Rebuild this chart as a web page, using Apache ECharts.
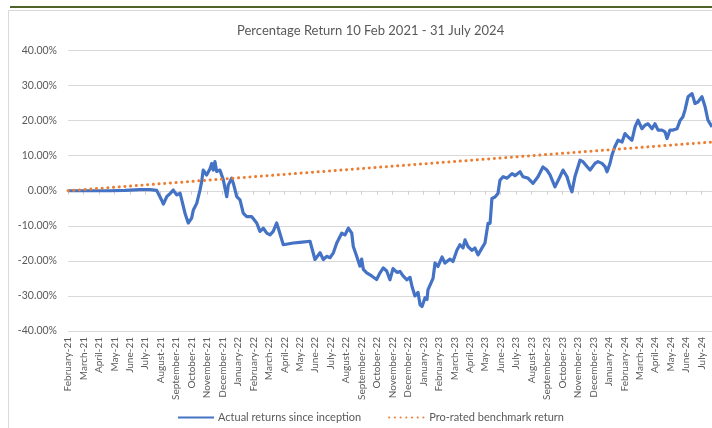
<!DOCTYPE html>
<html>
<head>
<meta charset="utf-8">
<script src="https://cdn.jsdelivr.net/npm/echarts@6/dist/echarts.min.js"></script>
<style>
html,body{margin:0;padding:0;background:#fff;}
#chart{width:712px;height:428px;}
</style>
</head>
<body>
<div id="chart"></div>
<script>
// Month tick labels (tick n = 10th of month n after Feb 2021)
const monthLabels = ["February-21","March-21","April-21","May-21","June-21","July-21","August-21","September-21","October-21","November-21","December-21",
"January-22","February-22","March-22","April-22","May-22","June-22","July-22","August-22","September-22","October-22","November-22","December-22",
"January-23","February-23","March-23","April-23","May-23","June-23","July-23","August-23","September-23","October-23","November-23","December-23",
"January-24","February-24","March-24","April-24","May-24","June-24","July-24"];

// Time in months since 10 Feb 2021
const actualTime = [0,0.78,1.75,2.72,3.69,4.66,5.31,5.74,5.95,6.06,6.17,6.39,6.60,6.81,7.03,7.25,7.36,7.57,7.78,8.00,8.11,8.33,8.54,8.65,8.75,8.97,9.19,9.30,9.40,9.51,9.62,9.83,10.05,10.27,10.37,10.59,10.70,10.92,11.13,11.34,11.56,11.89,11.99,12.21,12.42,12.64,12.86,13.07,13.28,13.50,13.61,13.72,13.93,14.58,15.01,15.66,15.77,15.98,16.31,16.52,16.74,16.95,17.17,17.39,17.71,17.92,18.14,18.36,18.46,18.68,18.89,19.00,19.11,19.33,19.65,19.97,20.19,20.40,20.62,20.83,21.03,21.29,21.48,21.68,21.93,22.13,22.26,22.45,22.65,22.78,22.91,23.10,23.23,23.29,23.62,23.75,23.94,24.20,24.39,24.72,24.91,25.17,25.36,25.56,25.69,25.88,26.14,26.33,26.53,26.79,26.98,27.18,27.31,27.43,27.63,27.82,27.95,28.15,28.41,28.73,28.92,29.25,29.44,29.76,30.09,30.41,30.73,30.99,31.19,31.51,31.83,32.03,32.29,32.48,32.61,32.80,33.13,33.32,33.58,33.78,34.10,34.29,34.55,34.75,34.88,35.07,35.20,35.39,35.59,35.85,36.04,36.23,36.49,36.69,36.88,37.14,37.33,37.53,37.79,37.98,38.18,38.43,38.63,38.76,38.95,39.15,39.41,39.60,39.79,39.92,40.12,40.38,40.57,40.76,41.02,41.22,41.41,41.67];

// Actual returns since inception (%)
const actualReturn = [0,0,0,0,0.1,0.3,0.3,0.1,-1.7,-2.7,-3.8,-1.7,-0.8,0.2,-1.2,-0.7,-2.6,-6.4,-9.2,-7.8,-5.5,-3.6,0.2,2.6,5.9,4.5,6.3,7.8,5.9,8.3,5.5,5.9,3.1,-1.7,1.6,3.6,2.1,-1.7,-2.6,-6.4,-7.4,-7.4,-6.9,-9.2,-11.6,-10.7,-12.1,-12.6,-11.6,-9.2,-10.7,-10.2,-15.4,-14.9,-14.7,-14.4,-14.9,-19.6,-17.7,-19.6,-18.7,-19.1,-17.7,-14.9,-12.1,-12.6,-10.7,-12.1,-15.9,-18.7,-21.5,-19.5,-22.4,-23.4,-24.3,-25.3,-23.4,-22.0,-22.9,-25.4,-22.2,-23.3,-23.0,-24.3,-25.4,-24.7,-27.3,-30,-29,-32.5,-33,-30.5,-31,-28.3,-25,-20.6,-21.6,-18.9,-20.6,-19.5,-20.2,-16.9,-15.4,-16.3,-14,-15.9,-17,-16.3,-18.3,-16.3,-14.9,-9.3,-9.3,-2.2,-1.8,-0.8,3,4,3.6,4.9,4.3,5.4,4,3.6,2.1,4,6.8,5.9,4.5,1.1,4,5.9,4,1.1,-0.3,4,8.7,8.3,6.9,5.9,7.8,8.3,7.8,6.9,5.4,7.8,10.2,12.6,14.4,13.9,16.3,15.4,14.4,18.2,20.1,17.7,18.7,19.1,17.7,19.1,17.3,17.3,16.8,14.9,17.3,17.3,17.7,20,21.1,23,26.8,27.7,24.9,25.3,26.8,24,20.1,18.2];

// Pro-rated benchmark return (%)
const benchTime = [0, 41.67];
const benchReturn = [0, 13.9];

const yTicks = [-40,-30,-20,-10,0,10,20,30,40];

const FONT = 'Lato';
const TXT = '#595959';

const chart = echarts.init(document.getElementById('chart'), null, {renderer:'canvas'});
const xMax = actualTime[actualTime.length-1];

chart.setOption({
  animation:false,
  backgroundColor:'#ffffff',
  textStyle:{fontFamily:FONT},
  graphic:[
    {type:'rect', shape:{x:10,y:6,width:710,height:2}, style:{fill:'#4f6228'}, silent:true},
    {type:'rect', shape:{x:8.5,y:10.5,width:720,height:430}, style:{fill:'none',stroke:'#d9d9d9',lineWidth:1}, silent:true, z:-10}
  ],
  title:{
    text:'Percentage Return 10 Feb 2021 - 31 July 2024',
    left:232, top:19,
    textStyle:{fontFamily:FONT,fontSize:13,fontWeight:'normal',color:TXT}
  },
  legend:{
    left:177, top:412, padding:0,
    itemWidth:36, itemHeight:12, itemGap:27,
    itemStyle:{opacity:0},
    textStyle:{fontFamily:FONT,fontSize:11,color:TXT,padding:[0,0,0,-1]},
    data:['Actual returns since inception','Pro-rated benchmark return']
  },
  grid:{left:68,right:0,top:50.5,bottom:97,containLabel:false},
  xAxis:[
    {
      type:'value', min:0, max:xMax, interval:1,
      axisLine:{show:false, onZero:false},
      axisTick:{show:false},
      splitLine:{show:false},
      axisLabel:{
        rotate:90, fontFamily:FONT, fontSize:10, color:TXT, margin:6,
        showMaxLabel:false,
        formatter:function(v){ return Number.isInteger(v) && monthLabels[v] ? monthLabels[v] : ''; }
      }
    },
    {
      type:'value', min:0, max:xMax, interval:1, position:'bottom',
      axisLine:{show:true, onZero:true, lineStyle:{color:'#d9d9d9',width:1}},
      axisTick:{show:true, length:4, lineStyle:{color:'#d0d0d0'}},
      axisLabel:{show:false},
      splitLine:{show:false}
    }
  ],
  yAxis:{
    type:'value', min:-40, max:40, interval:10,
    axisLine:{show:false}, axisTick:{show:false},
    splitLine:{show:true,lineStyle:{color:'#d9d9d9',width:1}},
    axisLabel:{fontFamily:FONT,fontSize:10.5,color:TXT,margin:11,
      formatter:function(v){ return yTicks.indexOf(v)>=0 ? v.toFixed(2)+'%' : ''; }}
  },
  series:[
    {
      name:'Pro-rated benchmark return', type:'line', xAxisIndex:0,
      data:benchTime.map((t,i)=>[t,benchReturn[i]]),
      symbol:'none', z:3,
      itemStyle:{color:'#ed7d31'},
      lineStyle:{color:'#ed7d31',width:3,type:[0.1,5.6],cap:'round'}
    },
    {
      name:'Actual returns since inception', type:'line', xAxisIndex:0,
      data:actualTime.map((t,i)=>[t,actualReturn[i]]),
      symbol:'none', z:2,
      itemStyle:{color:'#4472c4'},
      lineStyle:{color:'#4472c4',width:3.2,join:'round'}
    }
  ]
});
</script>
</body>
</html>
